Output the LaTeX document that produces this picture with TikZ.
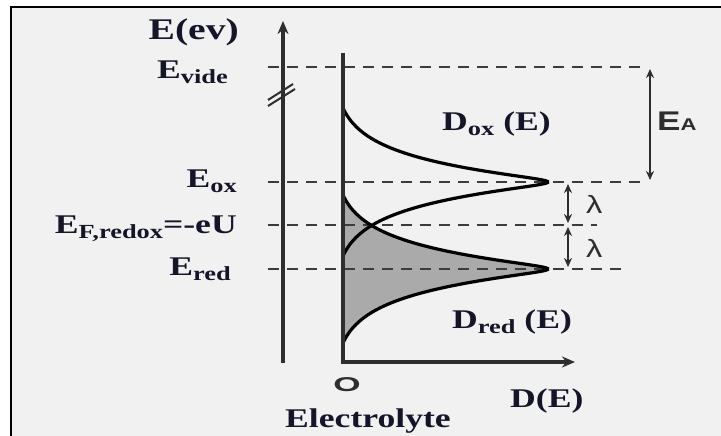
\documentclass[tikz,border=0pt]{standalone}
\usepackage{fontspec}
\usepackage{graphicx}
\usetikzlibrary{arrows.meta}
\setmainfont{Liberation Serif}[FakeStretch=1.32]
\newfontfamily\labsans{Liberation Sans}[FakeStretch=1.3]
\definecolor{panelgray}{HTML}{F1F1F1}
\definecolor{axisgray}{HTML}{2E2E2E}
\definecolor{levelgray}{HTML}{3C3C3C}
\definecolor{redfill}{HTML}{AAAAAA}
\definecolor{labink}{HTML}{15152A}
\newcommand{\lowsub}[1]{\raisebox{-.2em}{\fontsize{20}{21}\selectfont #1}}

\begin{document}
\begin{tikzpicture}[x=1pt,y=-1pt,
  >={Stealth[length=9pt,width=8pt]},
  axis/.style={draw=axisgray,line width=4pt,
    -{Stealth[length=13pt,width=11pt]}},
  level/.style={draw=levelgray,line width=2.6pt,dash pattern=on 11pt off 8pt},
  dos/.style={draw=black,line width=3.2pt},
  gap/.style={<->,draw=axisgray,line width=2.2pt},
  lab/.style={inner sep=0pt,text=labink,font=\bfseries\fontsize{27}{30}\selectfont},
  sanslab/.style={inner sep=0pt,text=axisgray,font=\labsans\fontsize{27}{29}\selectfont}
]
  \useasboundingbox (0,0) rectangle (721,436);
  \fill[white] (0,0) rectangle (721,436);
  \fill[panelgray] (11,7) rectangle (721,436);
  \draw[line width=2.6pt] (11,436) -- (11,7) -- (721,7);

  % reduced states, filled
  \fill[redfill] plot[domain=-74:74,samples=120,smooth]
    ({343+245*exp(-sqrt(\x*\x+9)/24)-11.2},{269+\x}) -- cycle;

  % energy levels
  \coordinate (videL) at (268,67);  \coordinate (videR) at (645,67);
  \coordinate (oxL)   at (268,182); \coordinate (oxR)   at (645,182);
  \coordinate (fermL) at (268,225); \coordinate (fermR) at (597,225);
  \coordinate (redL)  at (268,269); \coordinate (redR)  at (627,269);
  \foreach \a/\b in {videL/videR,oxL/oxR,fermL/fermR,redL/redR}
    \draw[level] (\a) -- (\b);

  % densities of states
  \draw[dos] plot[domain=-74:74,samples=120,smooth]
    ({343+245*exp(-sqrt(\x*\x+9)/24)-11.2},{182+\x});
  \draw[dos] plot[domain=-74:74,samples=120,smooth]
    ({343+245*exp(-sqrt(\x*\x+9)/24)-11.2},{269+\x});

  % axes
  \coordinate (ebot) at (283,363);
  \coordinate (etop) at (283,21);
  \coordinate (elytop) at (343,53);
  \coordinate (dtip) at (575,362);
  \draw[axis] (ebot) -- (etop);
  \draw[axis] (elytop) |- (dtip);
  \draw[axisgray,line width=2pt] (268,106) -- (295,89);
  \draw[axisgray,line width=2pt] (268,100) -- (293,84);

  % gaps
  \coordinate (eaTop) at (650,69);  \coordinate (eaBot) at (650,180);
  \coordinate (l1Top) at (568,184); \coordinate (l1Bot) at (568,223);
  \coordinate (l2Top) at (568,227); \coordinate (l2Bot) at (568,267);
  \draw[gap] (eaTop) -- (eaBot);
  \draw[gap] (l1Top) -- (l1Bot);
  \draw[gap] (l2Top) -- (l2Bot);

  % labels
  \node[lab,anchor=base east,font=\bfseries\fontsize{30}{32}\selectfont]
    (eaxis) at (239,40) {E(ev)};
  \node[lab,anchor=base east] (evide) at (228,78) {E\lowsub{vide}};
  \node[lab,anchor=base east] (eox) at (237,187) {E\lowsub{ox}};
  \node[lab,anchor=base east] (eferm) at (237,233) {E\lowsub{F,redox}=-eU};
  \node[lab,anchor=base east] (ered) at (231,275) {E\lowsub{red}};
  \node[lab,anchor=base west] (dox) at (442,130) {D\lowsub{ox} (E)};
  \node[lab,anchor=base west] (dred) at (452,328) {D\lowsub{red} (E)};
  \node[lab,anchor=base west] (dlab) at (510,407) {D(E)};
  \node[lab,anchor=base west] (elyte) at (285,427) {Electrolyte};
  \node[sanslab,anchor=base,font=\labsans\bfseries\fontsize{20}{21}\selectfont]
    (orig) at (347,391) {\scalebox{1.35}[1]{O}};
  \node[sanslab,anchor=base west,font=\labsans\bfseries\fontsize{27}{29}\selectfont]
    (ea) at (657,130) {E\fontsize{17}{18}\selectfont A};
  \node[sanslab,anchor=base west,font=\labsans\fontsize{25}{27}\selectfont]
    (lam1) at (586,213) {λ};
  \node[sanslab,anchor=base west,font=\labsans\fontsize{25}{27}\selectfont]
    (lam2) at (586,257) {λ};
\end{tikzpicture}
\end{document}
